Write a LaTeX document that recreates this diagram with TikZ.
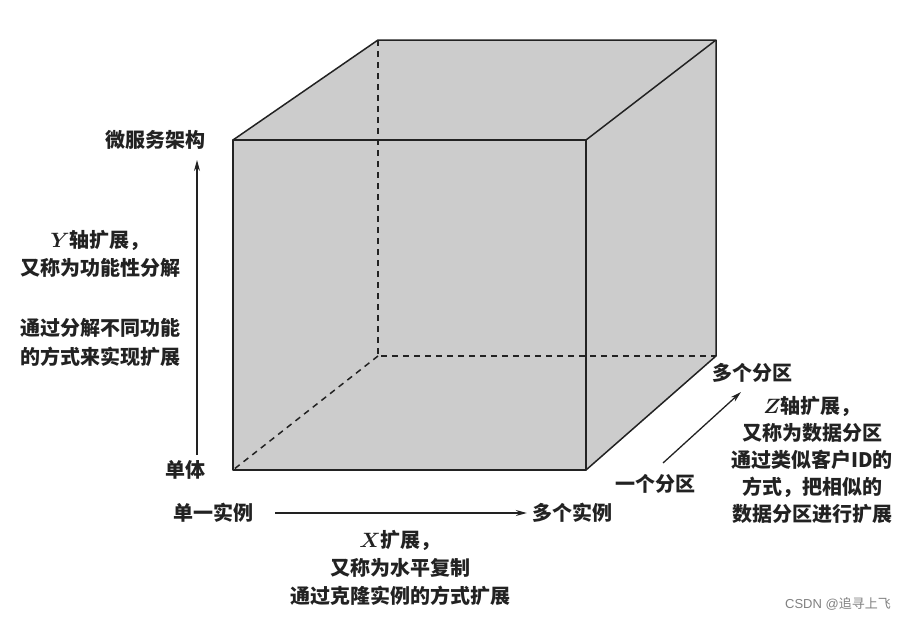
\documentclass[tikz,border=0pt]{standalone}
\usepackage{amsmath}
\usepackage{fontspec}
\setmainfont{Noto Sans CJK SC}
\newfontfamily\markfont{Liberation Sans}
\usetikzlibrary{arrows.meta}
\definecolor{cubegray}{RGB}{204,204,204}
\definecolor{inkgray}{RGB}{34,34,34}
\tikzset{
    lbl/.style={text=inkgray, font=\bfseries\fontsize{20}{27}\selectfont, inner sep=1pt},
    block/.style={lbl, align=center},
    edge/.style={draw=inkgray, line width=1.5pt, line join=round},
    hidden/.style={draw=inkgray, line width=1.5pt, dash pattern=on 6pt off 5pt},
    axis/.style={draw=inkgray, line width=1.3pt, -{Stealth[length=11pt,width=6pt]}}
}
\newcommand{\ax}[1]{$\boldsymbol{#1}$}
\begin{document}
\begin{tikzpicture}[x=1pt,y=-1pt]
    \useasboundingbox (0,0) rectangle (922,621);
    % corners of the cube
    \coordinate (fbl) at (233,470); \coordinate (fbr) at (586,470);
    \coordinate (ftr) at (586,140); \coordinate (ftl) at (233,140);
    \coordinate (btl) at (378,40);  \coordinate (btr) at (716,40);
    \coordinate (bbr) at (716,356); \coordinate (bbl) at (378,356);
    \fill[cubegray] (fbl) -- (fbr) -- (bbr) -- (btr) -- (btl) -- (ftl) -- cycle;
    \draw[hidden] (btl) -- (bbl) -- (bbr); \draw[hidden] (bbl) -- (fbl);
    \draw[edge] (fbl) rectangle (ftr);
    \draw[edge] (ftl) -- (btl) -- (btr) -- (ftr);
    \draw[edge] (btr) -- (bbr) -- (fbr);
    % Y axis
    \node[lbl] (micro) at (155,140) {微服务架构};
    \node[lbl] (mono) at (185,470) {单体};
    \coordinate (ytail) at (197,455); \coordinate (yhead) at (197,160);
    \draw[axis] (ytail) -- (yhead);
    \foreach \y/\t in {240/{\ax{Y}轴扩展，}, 268/又称为功能性分解, 328/通过分解不同功能, 357/的方式来实现扩展}
    \node[lbl] (y\y) at (100,\y) {\t};
    % X axis
    \node[lbl] (single) at (213,513) {单一实例};
    \node[lbl] (multi) at (572,513) {多个实例};
    \coordinate (xtail) at (275,513);
    \draw[axis] (xtail) -- ([xshift=-4pt]multi.west);
    \foreach \y/\t in {540/{\ax{X}扩展，}, 568/又称为水平复制, 596/通过克隆实例的方式扩展}
    \node[lbl] (x\y) at (400,\y) {\t};
    % Z axis
    \node[lbl] (onepart) at (655,484) {一个分区};
    \node[lbl] (manypart) at (752,373) {多个分区};
    \coordinate (ztail) at (663,463); \coordinate (zhead) at (741,392);
    \draw[axis] (ztail) -- (zhead);
    \node[block] (zdesc) at (812,460) {\ax{Z}轴扩展，\\又称为数据分区\\通过类似客户ID的\\方式，把相似的\\数据分区进行扩展};
    % watermark
    \node[text=gray, font=\markfont\fontsize{13}{15}\selectfont] (mark) at (838,604) {CSDN @\fontspec{Noto Sans CJK SC}追寻上飞};
\end{tikzpicture}
\end{document}
